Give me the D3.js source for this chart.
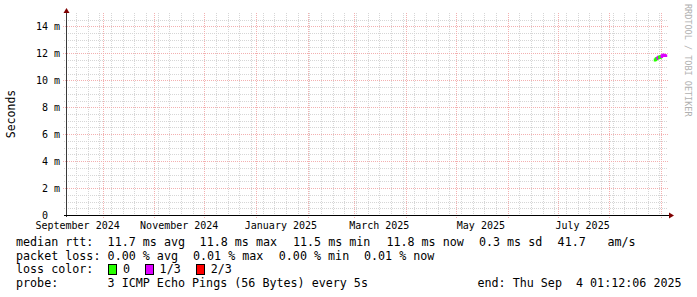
<!DOCTYPE html>
<html>
<head>
<meta charset="utf-8">
<script src="https://cdn.jsdelivr.net/npm/d3@7"></script>
<style>
  html, body { margin: 0; padding: 0; background: #fff; }
  svg { display: block; }
  text { font-family: "DejaVu Sans Mono", monospace; white-space: pre; }
</style>
</head>
<body>
<svg id="chart" width="697" height="297"></svg>
<script>
// ---------- data ----------
const rangeStart = "2024-09-09T01:12:06Z";
const rangeEnd = "2025-09-04T01:12:06Z";
const sampleTimes = [
  "2025-08-28T12:00:00Z", "2025-08-29T00:00:00Z", "2025-08-29T12:00:00Z",
  "2025-08-30T00:00:00Z", "2025-08-30T12:00:00Z", "2025-08-31T00:00:00Z",
  "2025-08-31T12:00:00Z", "2025-09-01T00:00:00Z", "2025-09-01T12:00:00Z",
  "2025-09-02T00:00:00Z", "2025-09-02T12:00:00Z", "2025-09-03T00:00:00Z",
  "2025-09-03T12:00:00Z", "2025-09-04T00:00:00Z"
];
const medianRtt = [0.01150, 0.01153, 0.01160, 0.01164, 0.01168, 0.01172, 0.01170,
                   0.01174, 0.01176, 0.01182, 0.01188, 0.01186, 0.01184, 0.01183];
const lossLevel = [0, 0, 0, 0, 1, 1, 0, 0, 0, 1, 1, 1, 1, 1];
const lossColors = ["#26ff00", "#dd00ff", "#ff0000"];
const lossLabels = ["0", "1/3", "2/3"];
const yTickValues = [0, 0.002, 0.004, 0.006, 0.008, 0.010, 0.012, 0.014];
const yTickLabels = ["0", "2 m", "4 m", "6 m", "8 m", "10 m", "12 m", "14 m"];
const xLabelMonths = ["2024-09-01", "2024-11-01", "2025-01-01", "2025-03-01", "2025-05-01", "2025-07-01"];
const xLabelTexts = ["September 2024", "November 2024", "January 2025", "March 2025", "May 2025", "July 2025"];
const rttStats = ["11.7 ms avg", "11.8 ms max", "11.5 ms min", "11.8 ms now", "0.3 ms sd", "41.7", "am/s"];
const lossStats = ["0.00 % avg", "0.01 % max", "0.00 % min", "0.01 % now"];
const probeText = "3 ICMP Echo Pings (56 Bytes) every 5s";
const endText = "end: Thu Sep  4 01:12:06 2025";
const yTitle = "Seconds";
const watermark = "RRDTOOL / TOBI OETIKER";

// ---------- layout ----------
const svg = d3.select("#chart");
const X0 = 66, X1 = 666, Y0 = 215, Y1 = 13;
const x = d3.scaleUtc().domain([new Date(rangeStart), new Date(rangeEnd)]).range([X0, X1]);
const y = d3.scaleLinear().domain([0, 0.015]).range([Y0, Y1]);

const minorCol = "#d6d6d6", majorCol = "#f3b0b0";
const g = svg.append("g").attr("shape-rendering", "crispEdges");

// minor horizontal grid (every 0.5 m)
const minorY = d3.range(1, 30).map(i => i * 0.0005).filter((v, i) => (i + 1) % 4 !== 0);
g.selectAll(".hmin").data(minorY).join("line")
  .attr("x1", X0 - 2).attr("x2", X1 + 1)
  .attr("y1", d => Math.round(y(d)) + 0.5).attr("y2", d => Math.round(y(d)) + 0.5)
  .attr("stroke", minorCol).attr("stroke-dasharray", "1,1");

// minor vertical grid (weekly, Sunday)
const weeks = d3.utcSunday.range(x.domain()[0], x.domain()[1]);
g.selectAll(".vmin").data(weeks).join("line")
  .attr("x1", d => Math.round(x(d)) + 0.5).attr("x2", d => Math.round(x(d)) + 0.5)
  .attr("y1", Y1).attr("y2", Y0 + 2)
  .attr("stroke", minorCol).attr("stroke-dasharray", "1,1");

// major horizontal grid
g.selectAll(".hmaj").data(yTickValues.slice(1)).join("line")
  .attr("x1", X0 - 3).attr("x2", X1 + 2)
  .attr("y1", d => Math.round(y(d)) + 0.5).attr("y2", d => Math.round(y(d)) + 0.5)
  .attr("stroke", majorCol).attr("stroke-dasharray", "1,1");

// major vertical grid (monthly)
const months = d3.utcMonth.range(x.domain()[0], x.domain()[1]);
g.selectAll(".vmaj").data(months).join("line")
  .attr("x1", d => Math.round(x(d)) + 0.5).attr("x2", d => Math.round(x(d)) + 0.5)
  .attr("y1", Y1).attr("y2", Y0 + 3)
  .attr("stroke", majorCol).attr("stroke-dasharray", "1,1");

// ---------- median line coloured by loss (stepped, like rrdtool) ----------
const pts = sampleTimes.map((t, i) => ({ t: new Date(t), v: medianRtt[i], l: lossLevel[i] }));
const seg = d3.line().x(d => x(d.t)).y(d => y(d.v)).curve(d3.curveStepBefore);
for (let i = 1; i < pts.length; i++) {
  svg.append("path")
    .attr("d", seg([pts[i - 1], pts[i]]))
    .attr("fill", "none")
    .attr("stroke", lossColors[pts[i].l])
    .attr("stroke-width", 2.6)
    .attr("stroke-linecap", "square");
}

// ---------- axes ----------
const axisCol = "#3a3a3a", arrowCol = "#7f0000";
svg.append("line").attr("x1", X0 + 0.5).attr("x2", X0 + 0.5).attr("y1", Y0 + 2).attr("y2", Y1 - 1)
  .attr("stroke", axisCol).attr("shape-rendering", "crispEdges");
svg.append("line").attr("x1", X0 - 2).attr("x2", X1 + 4).attr("y1", Y0 + 0.5).attr("y2", Y0 + 0.5)
  .attr("stroke", "#000").attr("shape-rendering", "crispEdges");
svg.append("path").attr("d", `M${X0 + 0.5},${Y1 - 5} L${X0 + 3.5},${Y1} L${X0 - 2.5},${Y1} Z`).attr("fill", arrowCol);
svg.append("path").attr("d", `M${X1 + 8},${Y0 + 0.5} L${X1 + 3},${Y0 - 2.5} L${X1 + 3},${Y0 + 3.5} Z`).attr("fill", arrowCol);

// y tick labels
svg.selectAll(".ylab").data(yTickValues).join("text")
  .attr("x", (d, i) => i === 0 ? 48 : 60)
  .attr("y", d => y(d) + 3.5)
  .attr("text-anchor", "end")
  .attr("font-size", "10px")
  .attr("fill", "#000")
  .text((d, i) => yTickLabels[i]);

// x labels (centered half a month after the tick, as rrdtool does)
svg.selectAll(".xlab").data(xLabelMonths).join("text")
  .attr("x", d => x(d3.utcDay.offset(new Date(d + "T00:00:00Z"), 15)))
  .attr("y", 228.5)
  .attr("text-anchor", "middle")
  .attr("font-size", "10px")
  .attr("fill", "#000")
  .text((d, i) => xLabelTexts[i]);

// y title
svg.append("text")
  .attr("transform", "translate(14.5,114) rotate(-90)")
  .attr("text-anchor", "middle")
  .attr("font-size", "11.5px")
  .attr("fill", "#000")
  .text(yTitle);

// watermark
svg.append("text")
  .attr("transform", "translate(685,4) rotate(90)")
  .attr("text-anchor", "start")
  .attr("font-size", "8.5px")
  .attr("fill", "#b0b0b0")
  .text(watermark);

// ---------- legend ----------
const LF = "11.7px";
function t(xp, yp, s) {
  svg.append("text").attr("x", xp).attr("y", yp).attr("font-size", LF).attr("fill", "#000").text(s);
}
const b1 = 245.7, b2 = 259.7, b3 = 273.3, b4 = 287.3;
t(16, b1, "median rtt:");
const rttX = [107.6, 199.6, 293, 386.4, 478.9, 557.6, 607.4];
rttStats.forEach((s, i) => t(rttX[i], b1, s));
t(16, b2, "packet loss:");
const lossX = [107.6, 193, 278.8, 364];
lossStats.forEach((s, i) => t(lossX[i], b2, s));
t(16, b3, "loss color:");
const boxX = [107.6, 145, 195.6];
const lblX = [123, 159.6, 210.8];
lossColors.forEach((c, i) => {
  svg.append("rect").attr("x", boxX[i] + 0.5).attr("y", 264.5).attr("width", 8).attr("height", 10)
    .attr("fill", c).attr("stroke", "#000").attr("stroke-width", 1).attr("shape-rendering", "crispEdges");
  t(lblX[i], b3, lossLabels[i]);
});
t(16, b4, "probe:");
t(107.6, b4, probeText);
t(477.5, b4, endText);
</script>
</body>
</html>
